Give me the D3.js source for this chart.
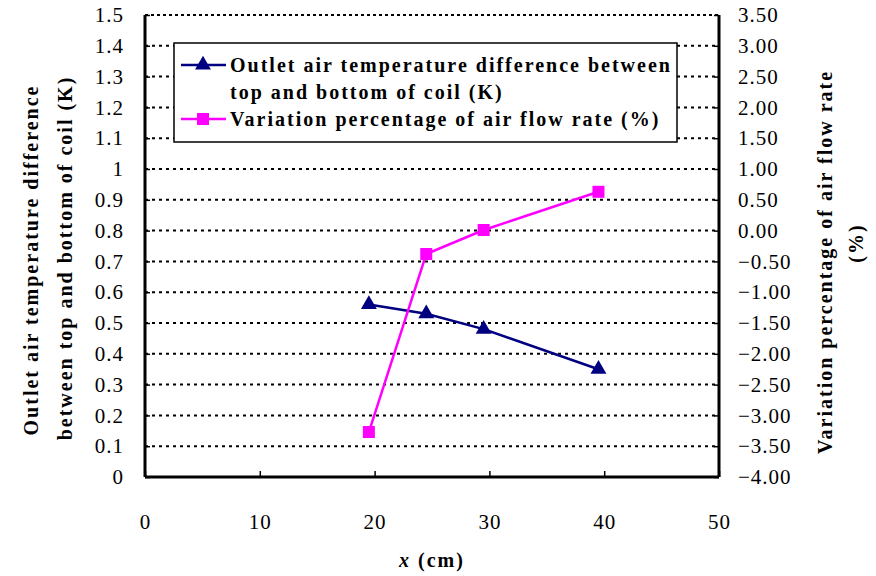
<!DOCTYPE html>
<html>
<head>
<meta charset="utf-8">
<script src="https://cdn.jsdelivr.net/npm/d3@7"></script>
<style>
  body { margin: 0; background: #fff; }
  text { font-family: "Liberation Serif", "DejaVu Serif", serif; fill: #000; }
</style>
</head>
<body>
<div id="chart"></div>
<script>
// data
var xValues = [19.5, 24.5, 29.5, 39.5];
var tempDiff = [0.56, 0.53, 0.48, 0.35];
var flowVar = [-3.27, -0.38, 0.01, 0.63];
var xTicks = [0, 10, 20, 30, 40, 50];
var leftTicks = [0, 0.1, 0.2, 0.3, 0.4, 0.5, 0.6, 0.7, 0.8, 0.9, 1, 1.1, 1.2, 1.3, 1.4, 1.5];
var rightTicks = [-4, -3.5, -3, -2.5, -2, -1.5, -1, -0.5, 0, 0.5, 1, 1.5, 2, 2.5, 3, 3.5];
var seriesNames = ["Outlet air temperature difference between|top and bottom of coil (K)", "Variation percentage of air flow rate (%)"];

var width = 876, height = 576;
var margin = {left: 145, right: 157, top: 15, bottom: 99};
var plotW = width - margin.left - margin.right, plotH = height - margin.top - margin.bottom;

var svg = d3.select('#chart').append('svg').attr('width', width).attr('height', height);
var g = svg.append('g').attr('transform', 'translate(' + margin.left + ',' + margin.top + ')');

var x = d3.scaleLinear().domain([0, 50]).range([0, plotW]);
var yL = d3.scaleLinear().domain([0, 1.5]).range([plotH, 0]);
var yR = d3.scaleLinear().domain([-4, 3.5]).range([plotH, 0]);

// dotted grid lines
g.selectAll('.grid').data(leftTicks.filter(function (d) { return d > 0 && d < 1.5; })).enter()
    .append('line').attr('x1', 0).attr('x2', plotW)
    .attr('y1', function (d) { return yL(d); }).attr('y2', function (d) { return yL(d); })
    .style('stroke', '#000').style('stroke-width', 2).style('stroke-dasharray', '3,4');
// top border dotted too
g.append('line').attr('x1', 0).attr('x2', plotW).attr('y1', 0).attr('y2', 0)
    .style('stroke', '#000').style('stroke-width', 2).style('stroke-dasharray', '3,3');

// axes
var axL = g.append('g').call(d3.axisLeft(yL).tickValues(leftTicks).tickSize(-5).tickPadding(21)
    .tickFormat(function (d) { return d3.format('~g')(d); }));
var axR = g.append('g').attr('transform', 'translate(' + plotW + ',0)')
    .call(d3.axisRight(yR).tickValues(rightTicks).tickSize(-5).tickPadding(19).tickFormat(d3.format('.2f')));
var axB = g.append('g').attr('transform', 'translate(0,' + plotH + ')')
    .call(d3.axisBottom(x).tickValues(xTicks).tickSize(-6).tickPadding(37).tickFormat(d3.format('d')));
[axL, axR, axB].forEach(function (a) {
    a.select('.domain').style('stroke-width', 3);
    a.selectAll('.tick line').style('stroke-width', 1.5);
    a.selectAll('text').style('font-size', '21px').style('letter-spacing', '1px')
        .style('font-family', '"Liberation Serif", serif');
});
axL.select('.domain').attr('d', 'M0,' + plotH + 'V0');
axR.select('.domain').attr('d', 'M0,' + plotH + 'V0');
axB.select('.domain').attr('d', 'M0,0H' + plotW);

// series
var line1 = d3.line().x(function (d, i) { return x(xValues[i]); }).y(function (d) { return yL(d); });
var line2 = d3.line().x(function (d, i) { return x(xValues[i]); }).y(function (d) { return yR(d); });
g.append('path').attr('d', line1(tempDiff)).style('fill', 'none').style('stroke', '#000080').style('stroke-width', 2.5);
g.append('path').attr('d', line2(flowVar)).style('fill', 'none').style('stroke', '#ff00ff').style('stroke-width', 2.5);

var tri = d3.symbol().type(d3.symbolTriangle).size(110);
g.selectAll('.tri').data(tempDiff).enter().append('path').attr('d', tri)
    .attr('transform', function (d, i) { return 'translate(' + x(xValues[i]) + ',' + yL(d) + ')'; })
    .style('fill', '#000080');
g.selectAll('.sq').data(flowVar).enter().append('rect')
    .attr('x', function (d, i) { return x(xValues[i]) - 6; })
    .attr('y', function (d) { return yR(d) - 6; })
    .attr('width', 12).attr('height', 12).style('fill', '#ff00ff');

// legend
var lg = svg.append('g').attr('transform', 'translate(174,43)');
lg.append('rect').attr('width', 503).attr('height', 99).style('fill', '#fff').style('stroke', '#000').style('stroke-width', 1.5);
var legColors = ['#000080', '#ff00ff'];
var legY = [22, 76];
seriesNames.forEach(function (name, i) {
    lg.append('line').attr('x1', 7).attr('x2', 52).attr('y1', legY[i]).attr('y2', legY[i])
        .style('stroke', legColors[i]).style('stroke-width', 2.5);
    if (i === 0) {
        lg.append('path').attr('d', tri).attr('transform', 'translate(29,' + legY[i] + ')').style('fill', legColors[i]);
    } else {
        lg.append('rect').attr('x', 23).attr('y', legY[i] - 6).attr('width', 12).attr('height', 12).style('fill', legColors[i]);
    }
    name.split('|').forEach(function (part, j) {
        lg.append('text').attr('x', 56).attr('y', legY[i] + 7 + j * 27).text(part)
            .style('font-size', '20px').style('font-weight', 'bold').style('letter-spacing', '2px');
    });
});

// axis titles
function title(tx, ty, label) {
    return svg.append('text').attr('transform', 'translate(' + tx + ',' + ty + ') rotate(-90)').attr('text-anchor', 'middle')
        .style('font-size', '20px').style('font-weight', 'bold').style('letter-spacing', '2px').text(label);
}
title(38, 260, 'Outlet air temperature difference');
title(72, 258, 'between top and bottom of coil (K)');
title(832, 262, 'Variation percentage of air flow rate');
title(863, 243, '(%)');
var xt = svg.append('text').attr('x', 432).attr('y', 567).attr('text-anchor', 'middle')
    .style('font-size', '20px').style('font-weight', 'bold').style('letter-spacing', '2px');
xt.append('tspan').style('font-style', 'italic').text('x');
xt.append('tspan').text(' (cm)');
</script>
</body>
</html>
